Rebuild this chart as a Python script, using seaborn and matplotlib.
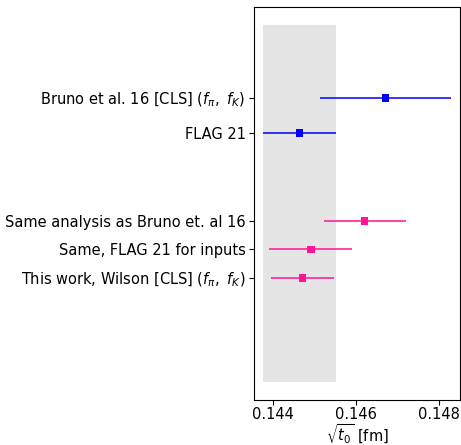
import matplotlib
matplotlib.use("Agg")
import matplotlib.pyplot as plt
import seaborn as sns
import pandas as pd

# Determinations of sqrt(t0) in fm
labels = [
    r"Bruno et al. 16 [CLS] ($f_\pi,\ f_K$)",
    "FLAG 21",
    "Same analysis as Bruno et. al 16",
    "Same, FLAG 21 for inputs",
    r"This work, Wilson [CLS] ($f_\pi,\ f_K$)",
]
values = [0.14671, 0.14464, 0.14621, 0.14491, 0.14471]
errors = [0.00157, 0.00087, 0.00099, 0.00100, 0.00076]
groups = ["literature", "literature", "this work", "this work", "this work"]

# FLAG 21 reference band
band_value = 0.14464
band_error = 0.00087

# vertical layout of the rows
ypos = [6.34, 5.10, 2.0, 1.0, 0.0]
band_span = (-3.68, 8.91)

palette = {"literature": "#0000ff", "this work": "#ff1493"}

df = pd.DataFrame({"label": labels, "value": values, "err": errors,
                   "group": groups, "y": ypos})

sns.set_style("white", rc={
    "axes.edgecolor": "black",
    "axes.labelcolor": "black",
    "text.color": "black",
    "xtick.color": "black",
    "ytick.color": "black",
    "xtick.bottom": True,
    "ytick.left": True,
    "xtick.major.size": 2.5,
    "ytick.major.size": 2.5,
    "xtick.major.width": 0.8,
    "ytick.major.width": 0.8,
    "axes.linewidth": 0.8,
})
plt.rcParams["font.family"] = ["sans-serif"]
plt.rcParams["font.sans-serif"] = ["DejaVu Sans"]
plt.rcParams["mathtext.fontset"] = "dejavusans"

fs = 10.5
fig = plt.figure(figsize=(4.61, 4.45), dpi=100)
ax = fig.add_axes([254 / 461, 45 / 445, 206 / 461, 393 / 445])

ax.fill_betweenx(band_span, band_value - band_error, band_value + band_error,
                 color="gray", alpha=0.2, linewidth=0, zorder=0)

for _, row in df.iterrows():
    ax.errorbar(row["value"], row["y"], xerr=row["err"], fmt="none",
                ecolor=palette[row["group"]], elinewidth=1.1, capsize=0, zorder=2)

sns.scatterplot(data=df, x="value", y="y", hue="group", palette=palette,
                marker="s", s=30, linewidth=0, legend=False, ax=ax, zorder=3)

ax.set_yticks(ypos)
ax.set_yticklabels(labels, fontsize=fs)
ax.tick_params(axis="y", pad=2.5)
ax.set_xticks([0.144, 0.146, 0.148])
ax.tick_params(axis="x", labelsize=fs, pad=1.8)
ax.set_xlabel(r"$\sqrt{t_0}$ [fm]", fontsize=fs, labelpad=0)
ax.set_ylabel("")
ax.margins(x=0.05, y=0.05)

fig.savefig("out.png", dpi=100)
